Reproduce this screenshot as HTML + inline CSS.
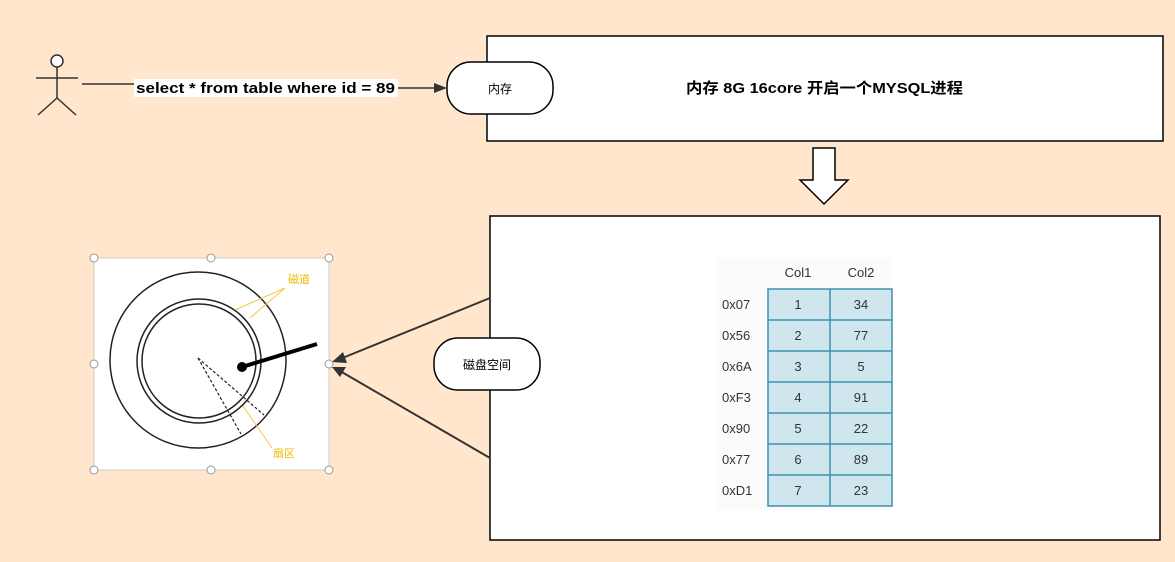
<!DOCTYPE html>
<html><head><meta charset="utf-8"><style>
body{margin:0;background:#FFE6CC;}
svg{display:block;font-family:"Liberation Sans","Noto Sans CJK SC",sans-serif;}
</style></head><body>
<svg width="1175" height="562" viewBox="0 0 1175 562">
<rect width="1175" height="562" fill="#FFE6CC"/>
<g stroke="#333" stroke-width="1.5" fill="none">
<circle cx="57" cy="61" r="6" fill="#fff"/>
<line x1="57" y1="67" x2="57" y2="98"/>
<line x1="36" y1="78" x2="78" y2="78"/>
<line x1="57" y1="98" x2="38" y2="115"/>
<line x1="57" y1="98" x2="76" y2="115"/>
<line x1="82" y1="84" x2="136" y2="84"/>
<line x1="396" y1="88" x2="438" y2="88"/>
</g>
<polygon points="447,88 434,83 434,93" fill="#333"/>
<rect x="134" y="79" width="264" height="18" fill="#fff"/>
<text x="136" y="93" font-size="15" font-weight="bold" textLength="259" lengthAdjust="spacingAndGlyphs" fill="#000">select * from table where id = 89</text>
<rect x="487" y="36" width="676" height="105" fill="#fff" stroke="#000" stroke-width="1.5"/>
<rect x="447" y="62" width="106" height="52" rx="24" fill="#fff" stroke="#000" stroke-width="1.5"/>
<text x="500" y="93" font-size="12" text-anchor="middle">内存</text>
<text x="686" y="93" font-size="15" font-weight="bold" textLength="277" lengthAdjust="spacingAndGlyphs">内存 8G 16core  开启一个MYSQL进程</text>
<polygon points="813,148 835,148 835,180 848,180 824,204 800,180 813,180" fill="#fff" stroke="#000" stroke-width="1.5"/>
<rect x="490" y="216" width="670" height="324" fill="#fff" stroke="#000" stroke-width="1.5"/>
<rect x="716" y="258" width="175" height="252" fill="#fbfbfb"/>
<text x="798" y="277" font-size="13" text-anchor="middle" fill="#333">Col1</text>
<text x="861" y="277" font-size="13" text-anchor="middle" fill="#333">Col2</text>
<g font-size="13" fill="#333">
<rect x="768" y="289" width="124" height="217" fill="#CFE6EE" stroke="#3F91B0" stroke-width="1.5"/>
<line x1="830" y1="289" x2="830" y2="506" stroke="#3F91B0" stroke-width="1.5"/>
<g stroke="#3F91B0" stroke-width="1.5">
<line x1="768" y1="320" x2="892" y2="320"/><line x1="768" y1="351" x2="892" y2="351"/>
<line x1="768" y1="382" x2="892" y2="382"/><line x1="768" y1="413" x2="892" y2="413"/>
<line x1="768" y1="444" x2="892" y2="444"/><line x1="768" y1="475" x2="892" y2="475"/>
</g>
<text x="722" y="309">0x07</text><text x="798" y="309" text-anchor="middle">1</text><text x="861" y="309" text-anchor="middle">34</text>
<text x="722" y="340">0x56</text><text x="798" y="340" text-anchor="middle">2</text><text x="861" y="340" text-anchor="middle">77</text>
<text x="722" y="371">0x6A</text><text x="798" y="371" text-anchor="middle">3</text><text x="861" y="371" text-anchor="middle">5</text>
<text x="722" y="402">0xF3</text><text x="798" y="402" text-anchor="middle">4</text><text x="861" y="402" text-anchor="middle">91</text>
<text x="722" y="433">0x90</text><text x="798" y="433" text-anchor="middle">5</text><text x="861" y="433" text-anchor="middle">22</text>
<text x="722" y="464">0x77</text><text x="798" y="464" text-anchor="middle">6</text><text x="861" y="464" text-anchor="middle">89</text>
<text x="722" y="495">0xD1</text><text x="798" y="495" text-anchor="middle">7</text><text x="861" y="495" text-anchor="middle">23</text>
</g>
<rect x="434" y="338" width="106" height="52" rx="24" fill="#fff" stroke="#000" stroke-width="1.5"/>
<text x="487" y="369" font-size="12" text-anchor="middle">磁盘空间</text>
<g stroke="#333" stroke-width="2">
<line x1="490" y1="298" x2="340" y2="359"/>
<line x1="490" y1="458" x2="340" y2="371"/>
</g>
<polygon points="332,362 343,352 347,363" fill="#333"/>
<polygon points="332,367 346,367 340,377" fill="#333"/>
<rect x="94" y="258" width="235" height="212" fill="#fff" stroke="#ccc" stroke-width="1"/>
<g fill="#fff" stroke="#999" stroke-width="1">
<circle cx="94" cy="258" r="4"/><circle cx="211" cy="258" r="4"/><circle cx="329" cy="258" r="4"/>
<circle cx="94" cy="364" r="4"/><circle cx="329" cy="364" r="4"/>
<circle cx="94" cy="470" r="4"/><circle cx="211" cy="470" r="4"/><circle cx="329" cy="470" r="4"/>
</g>
<g fill="none" stroke="#222" stroke-width="1.5">
<circle cx="198" cy="360" r="88"/>
<circle cx="199" cy="361" r="62"/>
<circle cx="199" cy="361" r="57"/>
</g>
<g stroke="#222" stroke-width="1.2" stroke-dasharray="3,2">
<line x1="198" y1="358" x2="241" y2="434"/>
<line x1="198" y1="358" x2="264" y2="415"/>
</g>
<line x1="242" y1="367" x2="317" y2="344" stroke="#000" stroke-width="4"/>
<circle cx="242" cy="367" r="5" fill="#000"/>
<g stroke="#F5C842" stroke-width="1">
<line x1="285" y1="288" x2="235" y2="310"/>
<line x1="285" y1="288" x2="250" y2="318"/>
<line x1="243" y1="406" x2="272" y2="448"/>
</g>
<text x="288" y="283" font-size="11" fill="#F0B800">磁道</text>
<text x="273" y="457" font-size="11" fill="#F0B800">扇区</text>
</svg>
</body></html>
